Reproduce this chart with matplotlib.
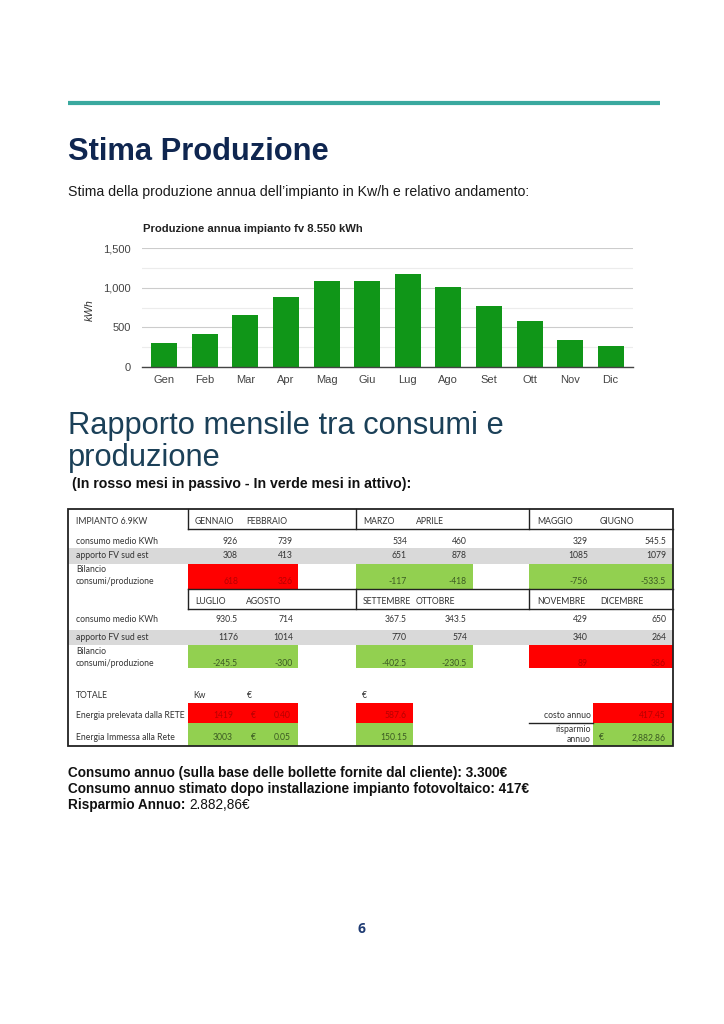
import matplotlib
matplotlib.use('Agg')
import matplotlib.pyplot as plt
from matplotlib.patches import Rectangle
from matplotlib.ticker import MultipleLocator

# ---------------- data ----------------
months_short = ['Gen', 'Feb', 'Mar', 'Apr', 'Mag', 'Giu', 'Lug', 'Ago', 'Set', 'Ott', 'Nov', 'Dic']
production_kwh = [308, 413, 651, 878, 1085, 1079, 1176, 1014, 770, 574, 340, 264]
y_ticks = [0, 500, 1000, 1500]
y_tick_labels = ['0', '500', '1,000', '1,500']

months_row1 = ['GENNAIO', 'FEBBRAIO', 'MARZO', 'APRILE', 'MAGGIO', 'GIUGNO']
months_row2 = ['LUGLIO', 'AGOSTO', 'SETTEMBRE', 'OTTOBRE', 'NOVEMBRE', 'DICEMBRE']
consumo_row1 = [926, 739, 534, 460, 329, 545.5]
consumo_row2 = [930.5, 714, 367.5, 343.5, 429, 650]
apporto_row1 = [308, 413, 651, 878, 1085, 1079]
apporto_row2 = [1176, 1014, 770, 574, 340, 264]
bilancio_row1 = [618, 326, -117, -418, -756, -533.5]
bilancio_row2 = [-245.5, -300, -402.5, -230.5, 89, 386]

prelevata_kw = 1419
prelevata_prezzo = '0.40'
prelevata_eur = '587.6'
immessa_kw = 3003
immessa_prezzo = '0.05'
immessa_eur = '150.15'
costo_annuo = '417.45'
risparmio_annuo = '2,882.86'

# ---------------- page ----------------
W, H = 724, 1024
fig = plt.figure(figsize=(W / 100, H / 100), dpi=100)
fig.patch.set_facecolor('white')
ax = fig.add_axes([0, 0, 1, 1])
ax.set_xlim(0, W)
ax.set_ylim(H, 0)
ax.axis('off')

SANS = ['Liberation Sans', 'DejaVu Sans']
TAB = ['Lato', 'DejaVu Sans']

# teal rule
ax.plot([68, 660], [103, 103], color='#3aa99f', lw=3.0, solid_capstyle='butt')

ax.text(68, 160, 'Stima Produzione', family=SANS, weight='bold', fontsize=22.2,
        color='#0f2650', va='baseline', ha='left')
ax.text(68, 196, 'Stima della produzione annua dell\u2019impianto in Kw/h e relativo andamento:',
        family=SANS, fontsize=10.2, color='#1a1a1a', va='baseline', ha='left')

# ---------------- bar chart ----------------
cl, cr, ct, cb = 142, 633, 248, 367
cax = fig.add_axes([cl / W, 1 - cb / H, (cr - cl) / W, (cb - ct) / H])
cax.bar(range(len(months_short)), production_kwh, width=0.64, color='#109618', zorder=3)
cax.set_xlim(-0.55, 11.55)
cax.set_ylim(0, 1500)
cax.set_yticks(y_ticks)
cax.set_yticklabels(y_tick_labels)
cax.yaxis.set_minor_locator(MultipleLocator(250))
cax.grid(axis='y', which='major', color='#cccccc', lw=0.8, zorder=0)
cax.grid(axis='y', which='minor', color='#ececec', lw=0.8, zorder=0)
cax.set_xticks(range(len(months_short)))
cax.set_xticklabels(months_short)
for s in ['top', 'right', 'left']:
    cax.spines[s].set_visible(False)
cax.spines['bottom'].set_color('#444444')
cax.spines['bottom'].set_linewidth(1.0)
cax.spines['bottom'].set_zorder(4)
cax.tick_params(axis='both', which='both', length=0, labelsize=8.0, colors='#444444')
cax.tick_params(axis='x', pad=6)
cax.tick_params(axis='y', pad=8)
for lab in cax.get_xticklabels() + cax.get_yticklabels():
    lab.set_family(SANS)
cax.set_facecolor('white')

ax.text(143, 232, 'Produzione annua impianto fv 8.550 kWh', family=SANS, weight='bold',
        fontsize=8.15, color='#222222', va='baseline', ha='left')
ax.text(90, 310, 'kWh', family=SANS, style='italic', fontsize=7.8, color='#333333',
        rotation=90, va='center', ha='center')

# ---------------- section 2 heading ----------------
ax.text(68, 434, 'Rapporto mensile tra consumi e', family=SANS, fontsize=22.2,
        color='#1b4058', va='baseline', ha='left')
ax.text(68, 466, 'produzione', family=SANS, fontsize=22.2,
        color='#1b4058', va='baseline', ha='left')
ax.text(72, 488, '(In rosso mesi in passivo - In verde mesi in attivo):', family=SANS,
        weight='bold', fontsize=10.2, color='#111111', va='baseline', ha='left')

# ---------------- table ----------------
xA, xB, xC, xD, xE, xF, xG, xH, xI, xEnd = 68, 188, 243, 298, 356, 413, 473, 529, 593, 673
col_left = [xB, xC, xE, xF, xH, xI]
col_right = [xC, xD, xF, xG, xI, xEnd]
hdr_x = [195, 246, 363, 416, 537, 600]
val_right = [238, 293, 407, 467, 588, 666]
T_TOP, T_BOT = 509, 746
RED, GREEN, GREY = '#ff0000', '#92d050', '#d9d9d9'
RED_TXT, GREEN_TXT, TXT = '#b80000', '#3b5a23', '#333333'
FS = 6.2


def fmt(v):
    return f'{v:g}'


def tx(x, y, s, ha='left', color=TXT, **kw):
    ax.text(x, y, s, family=TAB, fontsize=FS, color=color, ha=ha, va='center', **kw)


def block(r_hdr, hdr, cons, app, bil, y_hdr, y_cons, band, y_app, bil_top, bil_bot, y_bil_lbl):
    h0, h1 = r_hdr
    ax.plot([xB, xEnd], [h1, h1], color='#222222', lw=1.0)
    if h0 != T_TOP:
        ax.plot([xB, xEnd], [h0, h0], color='#222222', lw=1.0)
    for xv in [xB, xE, xH]:
        ax.plot([xv, xv], [h0, h1], color='#222222', lw=1.0)
    for i, m in enumerate(hdr):
        tx(hdr_x[i], y_hdr, m)
    tx(76, y_cons, 'consumo medio KWh')
    for i, v in enumerate(cons):
        tx(val_right[i], y_cons, fmt(v), ha='right')
    ax.add_patch(Rectangle((xA, band[0]), xEnd - xA, band[1] - band[0], color=GREY, lw=0, zorder=0))
    tx(76, y_app, 'apporto FV sud est')
    for i, v in enumerate(app):
        tx(val_right[i], y_app, fmt(v), ha='right')
    tx(76, y_bil_lbl[0], 'Bilancio')
    tx(76, y_bil_lbl[1], 'consumi/produzione')
    for i, v in enumerate(bil):
        c = RED if v > 0 else GREEN
        tc = RED_TXT if v > 0 else GREEN_TXT
        ax.add_patch(Rectangle((col_left[i], bil_top), col_right[i] - col_left[i], bil_bot - bil_top,
                               color=c, lw=0, zorder=0))
        tx(val_right[i], y_bil_lbl[1], fmt(v), ha='right', color=tc)


tx(76, 521, 'IMPIANTO 6.9KW')
block((T_TOP, 529), months_row1, consumo_row1, apporto_row1, bilancio_row1,
      521, 541, (548, 564), 556, 564, 589, (570, 582))
block((589, 609), months_row2, consumo_row2, apporto_row2, bilancio_row2,
      601, 620, (630, 645), 638, 645, 668, (652, 663))

# totals
tx(76, 696, 'TOTALE')
tx(193, 696, 'Kw')
tx(247, 696, '\u20ac')
tx(362, 696, '\u20ac')

r1t, r1b, r2b = 703, 723, 746
for (x0, x1) in [(xB, xC), (xC, xD), (xE, xF)]:
    ax.add_patch(Rectangle((x0, r1t), x1 - x0, r1b - r1t, color=RED, lw=0, zorder=0))
ax.add_patch(Rectangle((xI, r1t), xEnd - xI, r1b - r1t, color=RED, lw=0, zorder=0))
yp = 715
tx(76, yp, 'Energia prelevata dalla RETE')
tx(233, yp, fmt(prelevata_kw), ha='right', color=RED_TXT)
tx(251, yp, '\u20ac', color=RED_TXT)
tx(291, yp, prelevata_prezzo, ha='right', color=RED_TXT)
tx(407, yp, prelevata_eur, ha='right', color=RED_TXT)
tx(591, yp, 'costo annuo', ha='right')
ax.plot([xH, xI], [r1b, r1b], color='#222222', lw=1.0)
tx(666, yp, costo_annuo, ha='right', color=RED_TXT)

for (x0, x1) in [(xB, xC), (xC, xD), (xE, xF)]:
    ax.add_patch(Rectangle((x0, r1b), x1 - x0, r2b - r1b, color=GREEN, lw=0, zorder=0))
ax.add_patch(Rectangle((xI, r1b), xEnd - xI, r2b - r1b, color=GREEN, lw=0, zorder=0))
yi = 738
tx(76, yi, 'Energia Immessa alla Rete')
tx(233, yi, fmt(immessa_kw), ha='right', color=GREEN_TXT)
tx(251, yi, '\u20ac', color=GREEN_TXT)
tx(291, yi, immessa_prezzo, ha='right', color=GREEN_TXT)
tx(407, yi, immessa_eur, ha='right', color=GREEN_TXT)
tx(591, 729, 'risparmio', ha='right')
tx(591, 740, 'annuo', ha='right')
tx(599, yi, '\u20ac', color=GREEN_TXT)
tx(666, yi, risparmio_annuo, ha='right', color=GREEN_TXT)

ax.add_patch(Rectangle((xA, T_TOP), xEnd - xA, T_BOT - T_TOP, fill=False, ec='#222222', lw=1.3, zorder=5))

# ---------------- bottom summary ----------------
BFS = 9.8
ax.text(68, 777, 'Consumo annuo (sulla base delle bollette fornite dal cliente): 3.300\u20ac',
        family=SANS, weight='bold', fontsize=BFS, color='#111111', va='baseline')
ax.text(68, 793, 'Consumo annuo stimato dopo installazione impianto fotovoltaico: 417\u20ac',
        family=SANS, weight='bold', fontsize=BFS, color='#111111', va='baseline')
t = ax.text(68, 809, 'Risparmio Annuo: ', family=SANS, weight='bold', fontsize=BFS,
            color='#111111', va='baseline')
fig.canvas.draw()
bb = t.get_window_extent(renderer=fig.canvas.get_renderer())
ax.text(68 + bb.width, 809, '2.882,86\u20ac', family=SANS, fontsize=BFS,
        color='#111111', va='baseline')

ax.text(362, 933, '6', family=['Open Sans', 'DejaVu Sans'], weight='bold', fontsize=10,
        color='#1f3b73', ha='center', va='baseline')

fig.savefig('out.png', dpi=100, facecolor='white')
